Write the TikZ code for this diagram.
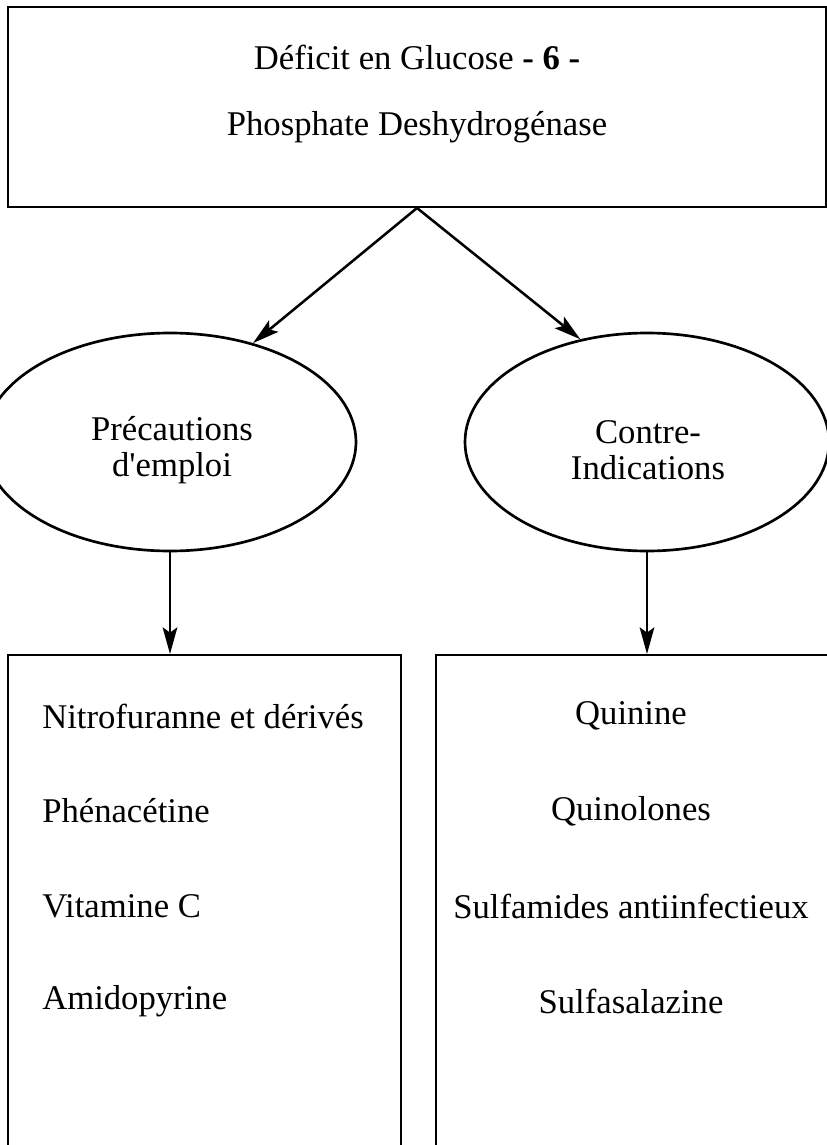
\documentclass[tikz,border=0pt]{standalone}
\usepackage{fontspec}
\setmainfont{Liberation Serif}[Ligatures=TeXOff]
\usetikzlibrary{shapes.geometric,arrows.meta}

\tikzset{
  frame/.style={draw, line width=1.5pt, inner sep=0pt},
  oval/.style={draw, ellipse, line width=2pt, inner sep=0pt, minimum height=163.5pt},
  label/.style={font=\fontsize{26}{27}\selectfont, inner sep=0pt},
  arr/.style={line width=1.9pt, -{Stealth[length=20pt,width=11pt,inset=4pt]}}
}

\begin{document}
\begin{tikzpicture}[x=0.75pt, y=-0.75pt]
  \useasboundingbox (0,0) rectangle (826,1145);

  % header box
  \node (deficit) at (417,107) [frame, minimum width=613.5pt, minimum height=150pt] {};
  \node (line1) at (417,57) [label] {Déficit en Glucose \textbf{- 6 -}};
  \node (line2) at (417,127) [label] {Phosphate Deshydrogénase};

  % the two ovals
  \node (precaution) at (170,442) [oval, minimum width=279pt] {};
  \node (contre) at (647,442) [oval, minimum width=273pt] {};
  \node (prectext) at (172,450) [label, align=center] {Précautions\\d'emploi};
  \node (contretext) at (648,450) [label, align=center] {Contre-\\Indications};

  % lists
  \node (leftbox) at (204.5,907.5) [frame, minimum width=294.75pt, minimum height=378.75pt] {};
  \node (rightbox) at (633,907.5) [frame, minimum width=295.5pt, minimum height=378.75pt] {};

  \node (nitro) at (42,716) [label, anchor=west] {Nitrofuranne et dérivés};
  \node (phena) at (42,811) [label, anchor=west] {Phénacétine};
  \node (vitc) at (42,906) [label, anchor=west] {Vitamine C};
  \node (amido) at (42,1001) [label, anchor=west] {Amidopyrine};

  \node (quinine) at (631,716) [label] {Quinine};
  \node (quinol) at (631,811) [label] {Quinolones};
  \node (sulfam) at (631,906) [label] {Sulfamides antiinfectieux};
  \node (sulfas) at (631,1001) [label] {Sulfasalazine};

  % arrows
  \draw[arr] (deficit.south) -- (precaution.50);
  \draw[arr] (deficit.south) -- (contre.123);
  \draw[arr] (precaution.south) -- (precaution.south |- leftbox.north);
  \draw[arr] (contre.south) -- (contre.south |- rightbox.north);
\end{tikzpicture}
\end{document}
